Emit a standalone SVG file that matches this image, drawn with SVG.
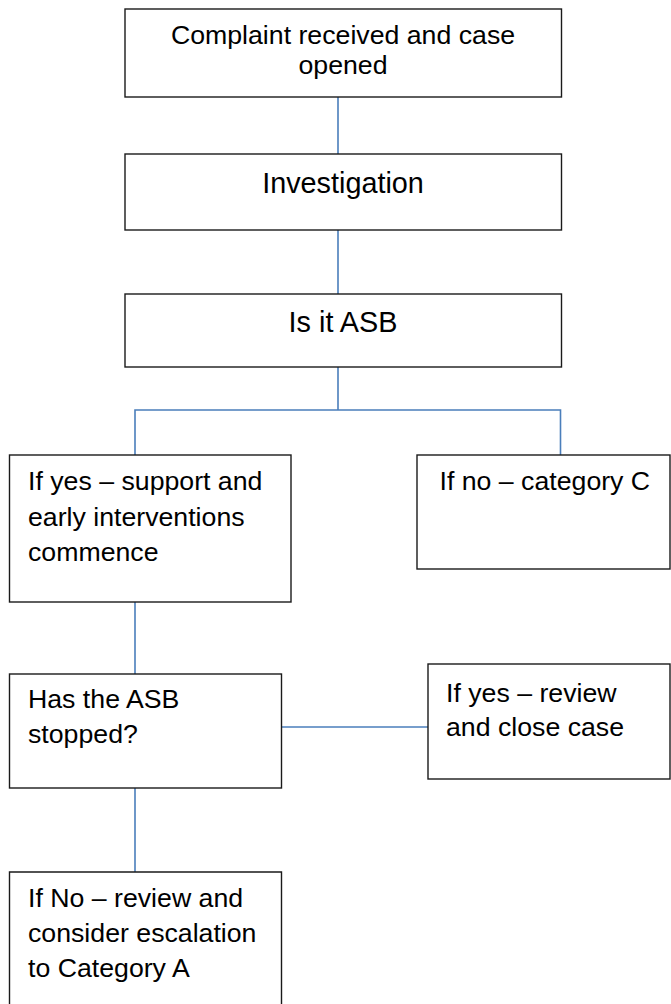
<svg xmlns="http://www.w3.org/2000/svg" width="671" height="1004" viewBox="0 0 671 1004">
<style>
.box{fill:#fff;stroke:#1a1a1a;stroke-width:1.4}
.t{font-family:"Liberation Sans",Arial,sans-serif;font-size:26.7px;fill:#000}
.tl{font-family:"Liberation Sans",Arial,sans-serif;font-size:28.8px;fill:#000}
.c{stroke:#4a7ebb;stroke-width:1.6;fill:none}
</style>
<g id="connectors">
<line class="c" x1="338" y1="97" x2="338" y2="154"/>
<line class="c" x1="338" y1="230" x2="338" y2="294"/>
<polyline class="c" points="338,367 338,410"/>
<polyline class="c" points="135,455 135,410 560.5,410 560.5,455"/>
<line class="c" x1="135" y1="602" x2="135" y2="674"/>
<line class="c" x1="281.5" y1="727" x2="428" y2="727"/>
<line class="c" x1="135" y1="788" x2="135" y2="872"/>
</g>
<g id="n1">
<rect class="box" x="125" y="9" width="436.5" height="88"/>
<text class="t" x="343" y="43.5" text-anchor="middle">Complaint received and case</text>
<text class="t" x="343" y="73.5" text-anchor="middle">opened</text>
</g>
<g id="n2">
<rect class="box" x="125" y="154" width="436.5" height="76"/>
<text class="tl" x="343" y="192.5" text-anchor="middle">Investigation</text>
</g>
<g id="n3">
<rect class="box" x="125" y="294" width="436.5" height="73"/>
<text class="tl" x="343" y="332" text-anchor="middle">Is it ASB</text>
</g>
<g id="n4">
<rect class="box" x="9.5" y="455" width="281.5" height="147"/>
<text class="t" x="28" y="490">If yes – support and</text>
<text class="t" x="28" y="525.5">early interventions</text>
<text class="t" x="28" y="561">commence</text>
</g>
<g id="n5">
<rect class="box" x="417" y="455" width="253" height="114"/>
<text class="t" x="439.5" y="490">If no – category C</text>
</g>
<g id="n6">
<rect class="box" x="9.5" y="674" width="272" height="114"/>
<text class="t" x="28" y="708">Has the ASB</text>
<text class="t" x="28" y="743">stopped?</text>
</g>
<g id="n7">
<rect class="box" x="428" y="664" width="242" height="115"/>
<text class="t" x="446" y="702">If yes – review</text>
<text class="t" x="446" y="736">and close case</text>
</g>
<g id="n8">
<path class="box" d="M9.5,1010 V872 H281.5 V1010"/>
<text class="t" x="28" y="907">If No – review and</text>
<text class="t" x="28" y="942">consider escalation</text>
<text class="t" x="28" y="977">to Category A</text>
</g>
</svg>
